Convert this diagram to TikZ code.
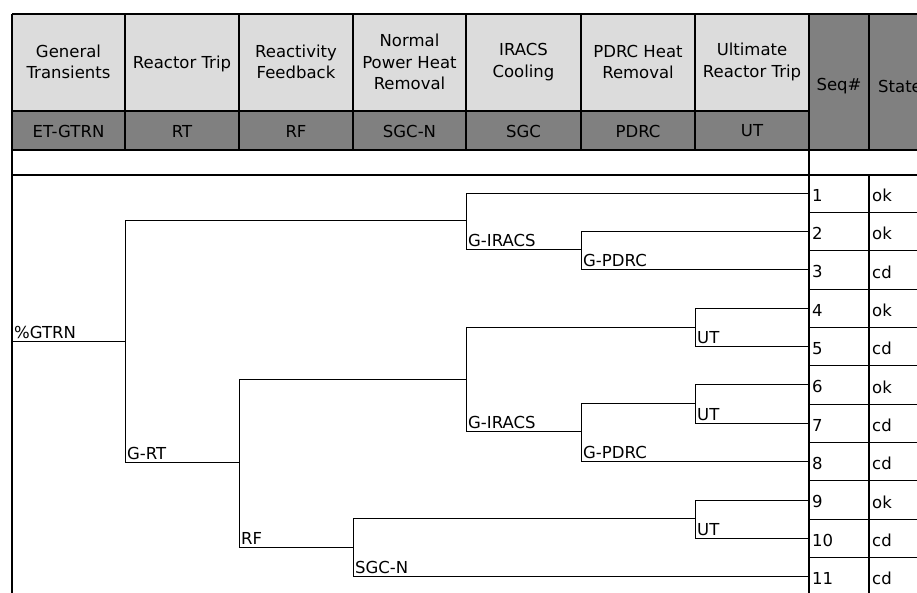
\documentclass[tikz,border=0pt]{standalone}
\usepackage{fontspec}
\setmainfont{DejaVu Sans}
\definecolor{hdrlight}{RGB}{220,220,220}
\definecolor{hdrdark}{RGB}{128,128,128}
\tikzset{
  evtext/.style={font=\fontsize{16.5}{21.5}\selectfont, inner sep=0pt},
  hdrcell/.style={evtext, align=center},
  brlabel/.style={evtext, anchor=south west, inner xsep=2pt, inner ysep=2.5pt},
  seqtext/.style={evtext, anchor=west},
  branch/.style={line width=0.9pt},
  grid/.style={line width=1.1pt},
}
\begin{document}
\begin{tikzpicture}[x=1pt, y=-1pt]
    % Picture size, same as the reference crop
    \useasboundingbox (0,0) rectangle (917,593);
    \clip (0,0) rectangle (917,593);
    \def\rowh{38.35}

    % Header fills
    \fill[hdrlight] (12,14) rectangle (809,111);
    \fill[hdrdark] (12,111) rectangle (809,150);
    \fill[hdrdark] (809,14) rectangle (930,150);

    % Header grid
    \draw[grid] (12,14) -- (930,14);
    \draw[grid] (12,111) -- (809,111);
    \draw[grid] (12,150) -- (930,150);
    \draw[line width=2.2pt] (12,175) -- (809,175);
    \draw[grid] (809,175) -- (930,175);
    \foreach \cx in {125,239,353,466,581,695}
        \draw[grid] (\cx,14) -- (\cx,150);
    \draw[grid] (869,14) -- (869,150);
    \draw[grid] (869,175) -- (869,600);
    \draw[line width=1.4pt] (12,14) -- (12,600);
    \draw[line width=2.6pt] (809,14) -- (809,600);

    % Function events (top row)
    \node[hdrcell] (hgtrn) at (68.5,62) {General\\Transients};
    \node[hdrcell] (hrt) at (182,64) {Reactor Trip};
    \node[hdrcell] (hrf) at (296,62) {Reactivity\\Feedback};
    \node[hdrcell] (hsgcn) at (409.5,62) {Normal\\Power Heat\\Removal};
    \node[hdrcell] (hsgc) at (523.5,62) {IRACS\\Cooling};
    \node[hdrcell] (hpdrc) at (638,62) {PDRC Heat\\Removal};
    \node[hdrcell] (hut) at (752,62) {Ultimate\\Reactor Trip};

    % Event names (dark row)
    \node[hdrcell] (cgtrn) at (68.5,131) {ET-GTRN};
    \node[hdrcell] (crt) at (182,131) {RT};
    \node[hdrcell] (crf) at (296,131) {RF};
    \node[hdrcell] (csgcn) at (409.5,131) {SGC-N};
    \node[hdrcell] (csgc) at (523.5,131) {SGC};
    \node[hdrcell] (cpdrc) at (638,131) {PDRC};
    \node[hdrcell] (cut) at (752,131) {UT};

    % Sequence columns
    \node[hdrcell] (hseq) at (839,86) {Seq\#};
    \node[seqtext] (hstate) at (878,86) {State};

    % Sequence rows: number, end state, end point of the branch
    \foreach \k/\st in {1/ok,2/ok,3/cd,4/ok,5/cd,6/ok,7/cd,8/cd,9/ok,10/cd,11/cd} {
        \coordinate (e\k) at (809,{174+\rowh*(\k-0.5)});
        \node[seqtext] (s\k) at (812,{176+\rowh*(\k-0.5)}) {\k};
        \node[seqtext] (st\k) at (872,{176+\rowh*(\k-0.5)}) {\st};
        \draw[grid] (809,{174+\rowh*\k}) -- (930,{174+\rowh*\k});
    }

    % Branch points
    \coordinate (gtrn) at (12,341.7);
    \coordinate (rt) at (125,341.7);
    \coordinate (iracsA) at (466,220.7);
    \coordinate (pdrcA) at (581,249.8);
    \coordinate (rf) at (239,462.9);
    \coordinate (iracsB) at (466,379);
    \coordinate (utA) at (695,327);
    \coordinate (pdrcB) at (581,431.9);
    \coordinate (utB) at (695,403.6);
    \coordinate (sgcn) at (353,547.5);
    \coordinate (utC) at (695,518.7);

    % Event tree
    \draw[branch] (gtrn) -- (rt);
    \draw[branch] (rt) |- (iracsA);
    \draw[branch] (rt) |- (rf);
    \draw[branch] (iracsA) |- (e1);
    \draw[branch] (iracsA) |- (pdrcA);
    \draw[branch] (pdrcA) |- (e2);
    \draw[branch] (pdrcA) |- (e3);
    \draw[branch] (rf) |- (iracsB);
    \draw[branch] (rf) |- (sgcn);
    \draw[branch] (iracsB) |- (utA);
    \draw[branch] (iracsB) |- (pdrcB);
    \draw[branch] (utA) |- (e4);
    \draw[branch] (utA) |- (e5);
    \draw[branch] (pdrcB) |- (utB);
    \draw[branch] (pdrcB) |- (e8);
    \draw[branch] (utB) |- (e6);
    \draw[branch] (utB) |- (e7);
    \draw[branch] (sgcn) |- (utC);
    \draw[branch] (sgcn) |- (e11);
    \draw[branch] (utC) |- (e9);
    \draw[branch] (utC) |- (e10);

    % Branch labels (on the lower branch)
    \node[brlabel] (lgtrn) at (gtrn) {\%GTRN};
    \node[brlabel] (lrt) at (rf -| rt) {G-RT};
    \node[brlabel] (liracsA) at (pdrcA -| iracsA) {G-IRACS};
    \node[brlabel] (lpdrcA) at (e3 -| pdrcA) {G-PDRC};
    \node[brlabel] (lrf) at (sgcn -| rf) {RF};
    \node[brlabel] (liracsB) at (pdrcB -| iracsB) {G-IRACS};
    \node[brlabel] (lutA) at (e5 -| utA) {UT};
    \node[brlabel] (lpdrcB) at (e8 -| pdrcB) {G-PDRC};
    \node[brlabel] (lutB) at (e7 -| utB) {UT};
    \node[brlabel] (lsgcn) at (e11 -| sgcn) {SGC-N};
    \node[brlabel] (lutC) at (e10 -| utC) {UT};
\end{tikzpicture}
\end{document}
